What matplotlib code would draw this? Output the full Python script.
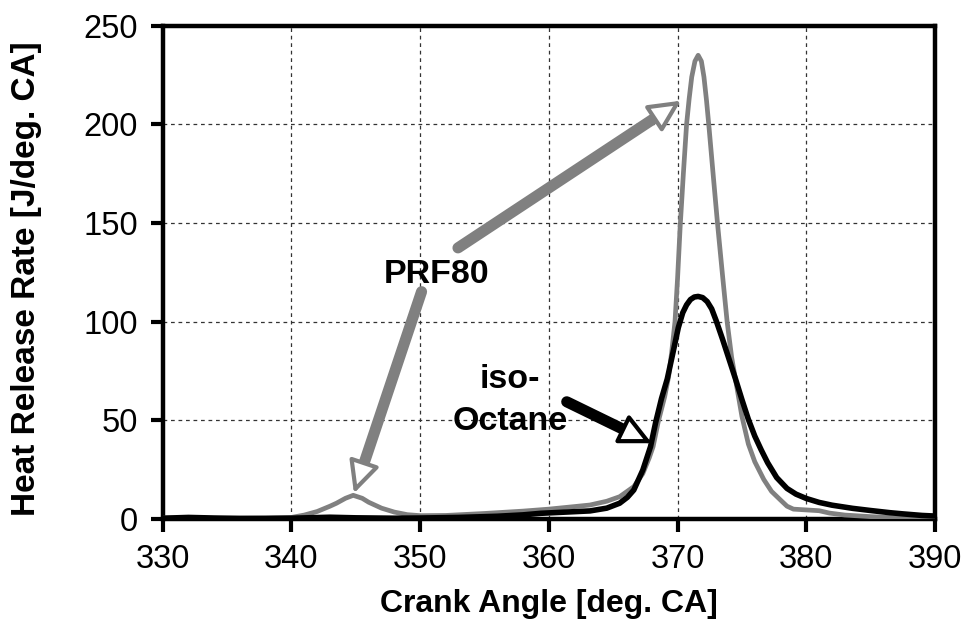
import matplotlib
matplotlib.use("Agg")
import matplotlib.pyplot as plt

plt.rcParams['font.family'] = ['Liberation Sans', 'DejaVu Sans']

# PRF80 heat release rate (gray curve)
angle_prf80 = [330, 334, 338, 340, 341, 342, 343, 343.5, 344.2, 344.8, 345.5, 346, 347, 348, 349,
               350, 352, 355, 358, 360, 362, 363.2, 364.5, 365.5, 366.6, 367.3, 367.8, 368.1,
               368.5, 369.0, 369.3, 369.55, 369.8, 370.0, 370.2, 370.45, 370.7, 370.9, 371.1,
               371.35, 371.6, 371.85, 372.05, 372.25, 372.45, 372.8, 373.1, 373.5, 373.85,
               374.2, 374.6, 375.0, 375.5, 376.0, 376.7, 377.3, 378.0, 378.5, 379.0, 380.0,
               381.0, 381.8, 383.0, 385.0, 387.0, 390.0]
hrr_prf80 = [0.5, 0.3, 0.5, 0.8, 2, 3.8, 6.5, 8, 10.5, 12, 10.5, 8.5, 5.5, 3.5, 2.2,
             1.7, 1.8, 2.8, 4, 5, 6.3, 7.1, 9, 11.3, 16.4, 23, 31, 36.7,
             49.3, 62, 72, 85, 100, 122, 148, 175, 200, 213, 224,
             232, 235, 232, 224, 212, 198, 172, 150, 123, 100,
             82, 67, 52, 38, 29, 20, 14, 9.6, 6.5, 5, 4.6,
             4.2, 3, 2, 1.2, 0.7, 0.4]

# iso-Octane heat release rate (black curve)
angle_iso = [330, 332, 334, 336, 338, 340, 343, 345, 348, 350, 353, 356, 358, 359.4, 361,
             363.2, 364.5, 365.5, 366.1, 366.6, 367.3, 367.9, 368.3, 368.75, 369.2, 369.6,
             370.06, 370.4, 370.7, 371.0, 371.3, 371.6, 371.95, 372.3, 372.65, 373.0, 373.5,
             374.0, 374.5, 375.0, 375.5, 376.0, 376.5, 377.0, 377.7, 378.5, 379.2, 380.0,
             381.0, 382.0, 383.6, 385.0, 386.5, 387.5, 389.0, 390.0]
hrr_iso = [0.4, 0.8, 0.5, 0.3, 0.3, 0.4, 0.9, 0.6, 0.4, 0.5, 0.8, 1.4, 2.1, 2.9, 3.4,
           4.1, 5.5, 8, 11, 14.7, 24.8, 36.7, 49, 61, 71, 83,
           97, 104.5, 108.5, 111.2, 112.5, 112.8, 112.2, 110.2, 106.5, 100.5, 91,
           81, 71, 60.5, 50.5, 42, 35, 28.5, 21, 15.5, 12.6, 10.4,
           8.4, 7, 5.4, 4.3, 3.2, 2.6, 1.8, 1.5]

x_ticks = [330, 340, 350, 360, 370, 380, 390]
y_ticks = [0, 50, 100, 150, 200, 250]

gray = '#808080'

fig = plt.figure(figsize=(9.67, 6.29), dpi=100)
ax = fig.add_axes([162.7 / 967, 1 - 519 / 629, (935 - 162.7) / 967, (519 - 25.7) / 629])

ax.plot(angle_prf80, hrr_prf80, color=gray, lw=3.4, solid_joinstyle='round', zorder=3)
ax.plot(angle_iso, hrr_iso, color='black', lw=4, solid_joinstyle='round', zorder=4)

ax.set_xlim(330, 390)
ax.set_ylim(0, 250)
ax.set_xticks(x_ticks)
ax.set_yticks(y_ticks)
ax.grid(True, color='#333333', linestyle=(0, (3, 3)), lw=0.9)
ax.tick_params(direction='out', length=9, width=3, pad=9, labelsize=23.5)
for sp in ax.spines.values():
    sp.set_linewidth(3.2)

ax.set_xlabel('Crank Angle [deg. CA]', fontsize=23, fontweight='bold')
ax.xaxis.set_label_coords(0.5, -0.142)
ax.set_ylabel('Heat Release Rate [J/deg. CA]', fontsize=24, fontweight='bold')
ax.yaxis.set_label_coords(-0.156, 0.4865)


def draw_arrow(start, tip, color):
    # thick shaft, then an open (white) head on top
    ax.annotate('', xy=tip, xytext=start, zorder=5,
                arrowprops=dict(arrowstyle='-', lw=8, color=color,
                                shrinkA=0, shrinkB=15))
    ax.annotate('', xy=tip, xytext=start, zorder=6,
                arrowprops=dict(arrowstyle='-|>,head_length=1.95,head_width=0.95',
                                lw=3, ec=color, fc='white', mutation_scale=10,
                                shrinkA=0, shrinkB=0))


draw_arrow((352.94, 137.4), (370.27, 212.0), gray)
draw_arrow((350.11, 115.2), (344.86, 13.0), gray)
draw_arrow((361.39, 59.4), (368.0, 38.4), 'black')

ax.text(351.31, 119.6, 'PRF80', fontsize=24.5, fontweight='bold', ha='center', va='baseline', zorder=7)
ax.text(356.99, 66.4, 'iso-', fontsize=24.5, fontweight='bold', ha='center', va='baseline', zorder=7)
ax.text(357.0, 45.1, 'Octane', fontsize=24.5, fontweight='bold', ha='center', va='baseline', zorder=7)

fig.savefig('out.png', dpi=100)
